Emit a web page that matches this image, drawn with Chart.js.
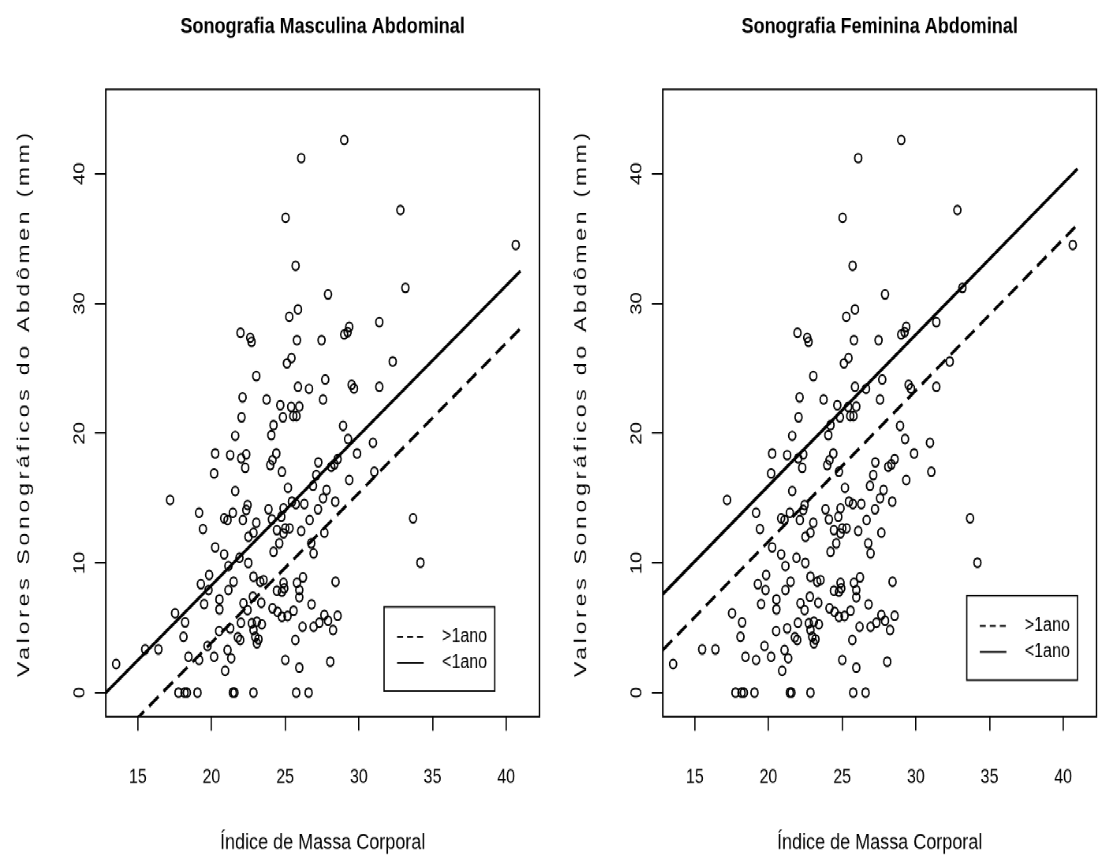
<!DOCTYPE html>
<html>
<head>
<meta charset="utf-8">
<title>Sonografia Abdominal</title>
<script src="https://cdn.jsdelivr.net/npm/chart.js@4.4.1/dist/chart.umd.min.js"></script>
<style>
  html, body { margin: 0; padding: 0; background: #fff; }
  body { width: 1113px; height: 863px; overflow: hidden; position: relative; }
  /* the reference is a vertically stretched R plot, so the whole page is stretched the same way */
  #wrap { position: absolute; left: 0; top: 0; width: 1113px; height: 680px;
          transform: scaleY(1.26912); transform-origin: 0 0; }
  .panel { position: absolute; top: 0; width: 556px; height: 680px; }
</style>
</head>
<body>
<div id="wrap">
  <div class="panel" style="left:0"><canvas id="chartM" width="556" height="680"></canvas></div>
  <div class="panel" style="left:557px"><canvas id="chartF" width="556" height="680"></canvas></div>
</div>
<script>
// dados
const bmi = [
  29.01,26.09,25.03,32.82,40.65,25.71,33.16,27.91,25.28,25.87,31.39,21.97,22.63,22.72,25.80,27.47,29.01,29.24,29.35,25.12,
  25.43,32.30,23.04,25.87,26.62,27.72,29.51,29.67,31.39,22.11,23.74,27.57,24.67,25.41,25.96,25.55,25.77,24.85,22.04,
  21.61,20.25,21.27,22.02,22.36,22.29,20.18,21.61,17.19,19.16,20.86,21.09,21.45,22.13,22.36,22.45,19.42,22.51,20.25,20.86,21.9,22.5,
  24.21,24.06,28.93,29.27,30.96,24.40,24.14,23.99,24.78,27.25,28.13,28.34,28.56,29.88,31.05,27.11,29.35,26.89,25.19,27.81,
  27.57,28.40,25.46,25.73,26.30,23.87,24.10,24.89,24.74,27.23,26.66,23.04,22.85,24.44,24.89,25.01,25.30,26.09,27.66,24.60,
  24.21,26.77,26.93,33.68,34.18,
  21.15,19.84,19.28,19.80,21.50,21.15,20.54,20.54,19.50,22.17,22.45,17.53,18.21,18.10,20.52,21.27,22.0,21.79,21.95,19.73,
  20.18,21.09,21.34,18.44,19.16,20.93,15.50,16.40,13.53,
  17.76,18.17,18.33,19.05,21.45,21.56,22.85,25.75,26.59,
  22.85,23.31,23.53,22.81,23.38,24.89,24.44,24.78,24.94,25.80,25.96,25.96,26.21,28.42,24.14,24.48,24.78,25.16,25.57,26.79,
  26.18,26.93,27.32,27.66,27.91,28.25,28.56,22.74,23.08,23.42,22.85,22.97,23.19,23.08,25.69,25.01,25.96,28.06
];
const sono = [
  42.6,41.2,36.6,37.2,34.5,32.9,31.2,30.7,28.97,29.54,28.56,27.74,27.35,27.04,27.17,27.17,27.61,27.79,28.2,25.38,
  25.79,25.53,24.40,23.58,23.42,24.14,23.73,23.45,23.58,22.76,22.60,22.60,22.16,22.03,22.06,21.32,21.32,21.22,21.22,
  19.80,18.44,18.31,18.06,18.37,17.33,16.90,15.54,14.85,13.87,13.44,13.31,13.87,13.31,14.08,14.46,12.61,12.02,11.20,10.66,10.4,10.0,
  20.62,19.85,20.57,19.55,19.26,18.44,17.93,17.54,17.03,17.75,17.41,17.60,18.00,18.44,17.03,16.77,16.39,15.95,15.79,15.62,
  14.98,14.72,14.72,14.54,14.54,14.13,13.36,14.21,13.56,14.13,13.31,13.10,12.33,12.53,12.28,12.67,12.67,12.46,12.33,11.51,
  10.86,11.51,10.74,13.44,10.02,
  9.76,9.07,8.37,7.91,8.55,7.91,7.19,6.42,6.83,6.89,6.37,6.12,5.42,4.31,4.75,4.96,5.39,4.27,4.06,3.60,
  2.77,3.29,2.65,2.77,2.52,1.69,3.34,3.34,2.21,
  0,0,0,0,0,0,0,0,0,
  8.94,8.55,8.68,7.40,6.93,8.47,7.86,7.78,8.04,8.47,7.91,7.35,8.89,8.55,6.50,6.24,5.86,5.91,6.32,6.81,
  5.08,5.08,5.39,5.99,5.55,4.83,5.93,5.35,5.47,5.27,4.83,4.31,4.11,3.81,4.06,2.52,1.93,2.39
];

// grupos e retas ajustadas (y = a + b*x)
const categories = ['>1ano', '<1ano'];
const maleIntercept = [-19.25, -14.82];
const maleSlope = [1.155, 1.155];
const femaleIntercept = [-11.65, -7.35];
const femaleSlope = [1.165, 1.165];
const fitX = [12.83, 40.97];

const xTicks = [15, 20, 25, 30, 35, 40];
const yTicks = [0, 10, 20, 30, 40];
const xRange = [12.83, 42.26];
const yRange = [-1.85, 46.5];

const STRETCH = 863 / 680;
const FONT = '"Liberation Sans", Arial, Helvetica, sans-serif';
const lineDash = [[12, 6.5], []];
const legendDash = [[6, 4], []];

Chart.defaults.font.family = FONT;
Chart.defaults.color = '#000';

// caixa completa em volta da área do gráfico (estilo R)
const rBox = {
    id: 'rBox',
    afterDatasetsDraw(chart) {
        const { ctx, chartArea: a } = chart;
        ctx.save();
        ctx.strokeStyle = '#000';
        ctx.lineWidth = 1.5;
        ctx.strokeRect(a.left, a.top, a.right - a.left, a.bottom - a.top);
        ctx.restore();
    }
};

// rótulos do eixo y girados e título do eixo y
const rYAxis = {
    id: 'rYAxis',
    afterDraw(chart, args, opts) {
        const { ctx, chartArea: a, scales: { y } } = chart;
        ctx.save();
        ctx.fillStyle = '#000';
        ctx.textAlign = 'center';
        ctx.textBaseline = 'middle';
        ctx.font = '16px ' + FONT;
        y.ticks.forEach(t => {
            ctx.save();
            ctx.translate(a.left - opts.labelOffset, y.getPixelForValue(t.value));
            ctx.rotate(-Math.PI / 2);
            ctx.fillText(String(t.value), 0, 0);
            ctx.restore();
        });
        ctx.font = '18px ' + FONT;
        if ('letterSpacing' in ctx) ctx.letterSpacing = opts.titleSpacing;
        ctx.translate(opts.titleX, (a.top + a.bottom) / 2);
        ctx.rotate(-Math.PI / 2);
        ctx.fillText(opts.title, 0, 0);
        ctx.restore();
    }
};

// legenda dentro do gráfico
const rLegend = {
    id: 'rLegend',
    afterDraw(chart, args, opts) {
        const { ctx, chartArea: a } = chart;
        const x1 = a.right - opts.right, y1 = a.bottom - opts.bottom;
        const x0 = x1 - opts.width, y0 = y1 - opts.height;
        ctx.save();
        ctx.fillStyle = '#fff';
        ctx.fillRect(x0, y0, opts.width, opts.height);
        ctx.strokeStyle = '#000';
        ctx.lineWidth = 1.3;
        ctx.strokeRect(x0, y0, opts.width, opts.height);
        ctx.font = '16px ' + FONT;
        ctx.fillStyle = '#000';
        ctx.textBaseline = 'middle';
        chart.data.datasets.filter(d => d.inLegend).forEach((d, i) => {
            const ly = y0 + opts.firstRow + i * opts.rowGap;
            ctx.setLineDash(legendDash[i]);
            ctx.lineWidth = 1.3;
            ctx.beginPath();
            ctx.moveTo(x0 + 13, ly);
            ctx.lineTo(x0 + 39.6, ly);
            ctx.stroke();
            ctx.setLineDash([]);
            ctx.fillText(d.label, x0 + 58, ly);
        });
        ctx.restore();
    }
};

function buildDatasets(intercepts, slopes) {
    const sets = [{
        label: 'dados',
        data: bmi.map((x, i) => ({ x: x, y: sono[i] })),
        pointRadius: 3.5,
        pointBorderWidth: 1.5,
        pointBorderColor: '#000',
        pointBackgroundColor: 'rgba(0,0,0,0)',
        showLine: false,
        inLegend: false
    }];
    categories.forEach((c, i) => {
        sets.push({
            label: c,
            data: fitX.map(x => ({ x: x, y: intercepts[i] + slopes[i] * x })),
            showLine: true,
            borderColor: '#000',
            borderWidth: 2.6,
            borderDash: lineDash[i],
            pointRadius: 0,
            inLegend: true
        });
    });
    return sets;
}

function makePanel(id, title, intercepts, slopes, legendPos) {
    return new Chart(document.getElementById(id), {
        type: 'scatter',
        data: { datasets: buildDatasets(intercepts, slopes) },
        options: {
            responsive: false,
            animation: false,
            devicePixelRatio: STRETCH,
            // padding à esquerda = margem do eixo y, para o título ficar centrado na área do gráfico
            layout: { padding: { left: 105.7, right: 17, top: 0, bottom: 5 } },
            plugins: {
                legend: { display: false },
                tooltip: { enabled: false },
                title: {
                    display: true,
                    text: title,
                    color: '#000',
                    font: { size: 18, weight: 'bold', family: FONT },
                    padding: { top: 10.2, bottom: 38.6 }
                },
                rYAxis: { labelOffset: 25.7, titleX: 24, titleSpacing: '3px',
                          title: 'Valores Sonográficos do Abdômen (mm)' },
                rLegend: legendPos
            },
            scales: {
                x: {
                    type: 'linear',
                    min: xRange[0],
                    max: xRange[1],
                    afterBuildTicks: s => { s.ticks = xTicks.map(v => ({ value: v })); },
                    afterFit: s => { s.height = 110.3; },
                    ticks: { font: { size: 16 }, color: '#000', padding: 27.5, maxRotation: 0 },
                    grid: { drawOnChartArea: false, drawTicks: true, tickLength: 11, color: '#000', lineWidth: 1.3 },
                    border: { display: false },
                    title: { display: true, text: 'Índice de Massa Corporal', font: { size: 18 },
                             color: '#000', padding: 0 }
                },
                y: {
                    type: 'linear',
                    min: yRange[0],
                    max: yRange[1],
                    afterBuildTicks: s => { s.ticks = yTicks.map(v => ({ value: v })); },
                    afterFit: s => { s.width = 0; },
                    ticks: { display: false },
                    grid: { drawOnChartArea: false, drawTicks: true, tickLength: 11, color: '#000', lineWidth: 1.3 },
                    border: { display: false }
                }
            }
        },
        plugins: [rBox, rYAxis, rLegend]
    });
}

makePanel('chartM', 'Sonografia Masculina Abdominal', maleIntercept, maleSlope,
    { right: 44.7, bottom: 20.2, width: 110.6, height: 66.4, firstRow: 23.7, rowGap: 20.5 });
makePanel('chartF', 'Sonografia Feminina Abdominal', femaleIntercept, femaleSlope,
    { right: 19, bottom: 28.9, width: 110.6, height: 66.4, firstRow: 23.7, rowGap: 20.5 });
</script>
</body>
</html>
